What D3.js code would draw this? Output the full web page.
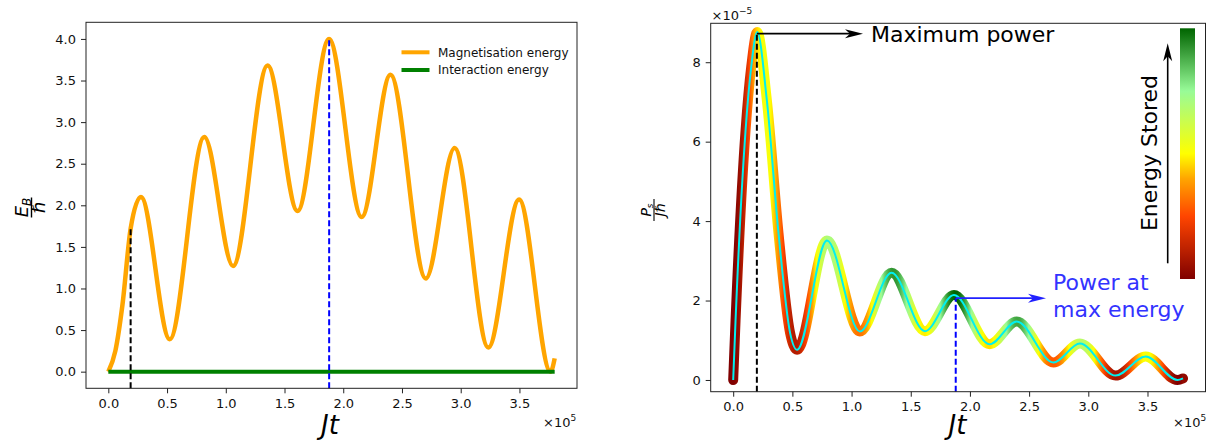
<!DOCTYPE html>
<html>
<head>
<meta charset="utf-8">
<script src="https://cdnjs.cloudflare.com/ajax/libs/d3/7.8.5/d3.min.js"></script>
<style>
body { margin: 0; background: #fff; }
svg { font-family: "DejaVu Sans", sans-serif; }
</style>
</head>
<body>
<div id="chart"></div>
<script>
// tick labels
var timeTicks = [0, 0.5, 1.0, 1.5, 2.0, 2.5, 3.0, 3.5];
var energyTicks = [0, 0.5, 1.0, 1.5, 2.0, 2.5, 3.0, 3.5, 4.0];
var powerTicks = [0, 2, 4, 6, 8];

// magnetisation energy E_B/hbar against Jt (x1e5)
var energyTime = [0, 0.06, 0.12, 0.19, 0.278, 0.523, 0.817, 1.062, 1.356, 1.611, 1.879, 2.157, 2.402, 2.703, 2.948, 3.235, 3.497, 3.765, 3.8];
var magEnergy = [0, 0.25, 0.8, 1.72, 2.1, 0.39, 2.82, 1.27, 3.68, 1.93, 4.0, 1.86, 3.57, 1.12, 2.69, 0.29, 2.07, 0.0, 0.16];
var interTime = [0, 3.8];
var interEnergy = [0, 0];

// power P_s/(J hbar) (x1e-5)
var powerTime = [0, 0.02, 0.105, 0.153, 0.203, 0.284, 0.383, 0.481, 0.54, 0.792, 1.07, 1.338, 1.62, 1.865, 2.166, 2.395, 2.706, 2.929, 3.23, 3.485, 3.753, 3.8];
var powerValue = [0, 1.5, 6.3, 7.9, 8.76, 7.05, 3.69, 1.18, 0.76, 3.51, 1.22, 2.70, 1.23, 2.14, 0.90, 1.47, 0.44, 0.92, 0.11, 0.59, 0.0, 0.04];

// dashed markers (max power time, max energy time)
var markTime = [0.19, 1.88];
var markEnergy = [1.72, 4.0];
var markPowerTime = [0.2, 1.88];
var markPower = [8.72, 2.06];

// energy colormap
var cmapEnergy = [0, 1, 1.6, 2, 3, 4];
var cmapColors = ["#800000", "#ff4500", "#ffa500", "#ffff00", "#98fb98", "#006400"];

function base(){
    var w = 1207;
    var h = 441;

    var svg = d3.select("#chart")
    .append("svg")
    .attr("width", w)
    .attr("height", h);

    svg.append("rect").attr("width", w).attr("height", h).attr("fill", "#fff");
    var defs = svg.append("defs");

    //scales
    var xL = d3.scaleLinear().domain([-0.19, 3.99]).range([86, 577]);
    var yL = d3.scaleLinear().domain([-0.2, 4.2]).range([388.3, 22.3]);
    var xR = d3.scaleLinear().domain([-0.19, 3.99]).range([710.7, 1205.5]);
    var yR = d3.scaleLinear().domain([-0.295, 8.98]).range([391.7, 23.3]);

    var cmap = d3.scaleLinear().domain(cmapEnergy).range(cmapColors);

    function axes(x, y, yTicks, yFmt) {
        var g = svg.append("g");
        g.append("g")
        .attr("transform", "translate(0," + y.range()[0] + ")")
        .call(d3.axisBottom(x).tickValues(timeTicks).tickFormat(d3.format(".1f"))
            .tickSize(5).tickPadding(5.5))
        .call(function(a) { a.select(".domain").remove(); });
        g.append("g")
        .attr("transform", "translate(" + x.range()[0] + ",0)")
        .call(d3.axisLeft(y).tickValues(yTicks).tickFormat(d3.format(yFmt))
            .tickSize(5).tickPadding(5))
        .call(function(a) { a.select(".domain").remove(); });
        g.selectAll(".tick text").attr("font-size", 13).attr("font-family", "DejaVu Sans").attr("fill", "#111");
        g.selectAll(".tick line").attr("stroke", "#222").attr("stroke-width", 1);
        return g;
    }

    function frame(x, y) {
        svg.append("rect")
        .attr("x", x.range()[0]).attr("y", y.range()[1])
        .attr("width", x.range()[1] - x.range()[0])
        .attr("height", y.range()[0] - y.range()[1])
        .attr("fill", "none").attr("stroke", "#222").attr("stroke-width", 1);
    }

    function arrowRight(tx, ty) {
        return "M" + tx + "," + ty + "L" + (tx - 18) + "," + (ty - 4.5) + "L" + (tx - 13) + "," + ty + "L" + (tx - 18) + "," + (ty + 4.5) + "Z";
    }

    // ---------- left panel ----------
    axes(xL, yL, energyTicks, ".1f");

    var lineL = d3.line()
    .x(function(d) { return xL(d[0]); })
    .y(function(d) { return yL(d[1]); })
    .curve(d3.curveMonotoneX);

    var orange = svg.append("path")
    .datum(d3.zip(energyTime, magEnergy))
    .attr("d", lineL)
    .attr("fill", "none")
    .attr("stroke", "#ffa500")
    .attr("stroke-width", 4.5);

    svg.append("path")
    .datum(d3.zip(interTime, interEnergy))
    .attr("d", lineL)
    .attr("fill", "none")
    .attr("stroke", "#008000")
    .attr("stroke-width", 4);

    svg.selectAll(".markL")
    .data(d3.zip(markTime, markEnergy))
    .enter()
    .append("line")
    .attr("x1", function(d) { return xL(d[0]); })
    .attr("x2", function(d) { return xL(d[0]); })
    .attr("y1", yL.range()[0])
    .attr("y2", function(d) { return yL(d[1]); })
    .attr("stroke", function(d, i) { return i == 0 ? "#000" : "#0000ff"; })
    .attr("stroke-width", 2)
    .attr("stroke-dasharray", "6,3");

    frame(xL, yL);

    //legend
    var leg = svg.append("g");
    [["Magnetisation energy", "#ffa500"], ["Interaction energy", "#008000"]].forEach(function(d, i) {
        var yy = 52.3 + i * 17.7;
        leg.append("line").attr("x1", 401.5).attr("x2", 429.5).attr("y1", yy).attr("y2", yy)
        .attr("stroke", d[1]).attr("stroke-width", 4);
        leg.append("text").attr("x", 438).attr("y", yy + 4.4).attr("font-size", 12).attr("fill", "#111").text(d[0]);
    });

    //axis labels
    var fl = svg.append("g").attr("transform", "translate(31.5,207.5) rotate(-90)");
    var num = fl.append("text").attr("x", 0).attr("y", -4).attr("text-anchor", "middle")
    .attr("font-size", 18).attr("font-style", "italic");
    num.append("tspan").text("E");
    num.append("tspan").attr("font-size", 12).attr("dy", 3).text("B");
    fl.append("line").attr("x1", -10).attr("x2", 10).attr("y1", 0).attr("y2", 0).attr("stroke", "#000").attr("stroke-width", 1.4);
    fl.append("text").attr("x", 0).attr("y", 13.5).attr("text-anchor", "middle")
    .attr("font-size", 18).attr("font-style", "italic").text("\u210F");

    svg.append("text").attr("x", 330).attr("y", 434).attr("text-anchor", "middle")
    .attr("font-size", 26).attr("font-style", "italic").text("Jt");

    var sx = svg.append("text").attr("x", 543).attr("y", 427).attr("font-size", 13).attr("fill", "#111");
    sx.append("tspan").text("\u00d710");
    sx.append("tspan").attr("font-size", 9).attr("dy", -6).text("5");

    // ---------- right panel ----------
    axes(xR, yR, powerTicks, "d");

    // sample the drawn energy curve to colour the power curve by stored energy
    var node = orange.node();
    var total = node.getTotalLength();
    var samples = [];
    for (var l = 0; l <= total; l += 2) {
        var p = node.getPointAtLength(l);
        samples.push([xL.invert(p.x), yL.invert(p.y)]);
    }
    samples.sort(function(a, b) { return a[0] - b[0]; });

    var grad = defs.append("linearGradient")
    .attr("id", "energyGrad")
    .attr("gradientUnits", "userSpaceOnUse")
    .attr("x1", xR(0)).attr("x2", xR(3.8))
    .attr("y1", 0).attr("y2", 0);
    grad.selectAll("stop")
    .data(samples)
    .enter()
    .append("stop")
    .attr("offset", function(d) { return Math.max(0, Math.min(1, d[0] / 3.8)); })
    .attr("stop-color", function(d) { return cmap(Math.max(0, Math.min(4, d[1]))); });

    var lineR = d3.line()
    .x(function(d) { return xR(d[0]); })
    .y(function(d) { return yR(d[1]); })
    .curve(d3.curveMonotoneX);

    var powerData = d3.zip(powerTime, powerValue);

    svg.append("path")
    .datum(powerData)
    .attr("d", lineR)
    .attr("fill", "none")
    .attr("stroke", "url(#energyGrad)")
    .attr("stroke-width", 10)
    .attr("stroke-linecap", "round")
    .attr("stroke-linejoin", "round");

    svg.append("path")
    .datum(powerData)
    .attr("d", lineR)
    .attr("fill", "none")
    .attr("stroke", "#00f0f0")
    .attr("stroke-width", 2);

    svg.selectAll(".markR")
    .data(d3.zip(markPowerTime, markPower))
    .enter()
    .append("line")
    .attr("x1", function(d) { return xR(d[0]); })
    .attr("x2", function(d) { return xR(d[0]); })
    .attr("y1", yR.range()[0])
    .attr("y2", function(d) { return yR(d[1]); })
    .attr("stroke", function(d, i) { return i == 0 ? "#000" : "#0000ff"; })
    .attr("stroke-width", 2)
    .attr("stroke-dasharray", "6,3");

    frame(xR, yR);

    //annotations
    var ay = yR(markPower[0]);
    svg.append("line").attr("x1", xR(markPowerTime[0])).attr("x2", 850).attr("y1", ay).attr("y2", ay)
    .attr("stroke", "#000").attr("stroke-width", 1.6);
    svg.append("path").attr("d", arrowRight(863, ay)).attr("fill", "#000");
    svg.append("text").attr("x", 871).attr("y", 41.7).attr("font-size", 22).attr("fill", "#000").text("Maximum power");

    var by = yR(markPower[1]);
    svg.append("line").attr("x1", xR(markPowerTime[1])).attr("x2", 1033).attr("y1", by).attr("y2", by)
    .attr("stroke", "#2020ff").attr("stroke-width", 1.6);
    svg.append("path").attr("d", arrowRight(1046, by)).attr("fill", "#2020ff");
    svg.append("text").attr("x", 1053).attr("y", 290).attr("font-size", 22).attr("fill", "#3333ff").text("Power at");
    svg.append("text").attr("x", 1053).attr("y", 317).attr("font-size", 22).attr("fill", "#3333ff").text("max energy");

    //colour bar
    var cbGrad = defs.append("linearGradient")
    .attr("id", "cbGrad")
    .attr("x1", 0).attr("x2", 0).attr("y1", 1).attr("y2", 0);
    cbGrad.selectAll("stop")
    .data(d3.range(0, 4.01, 0.1))
    .enter()
    .append("stop")
    .attr("offset", function(d) { return d / 4; })
    .attr("stop-color", function(d) { return cmap(d); });
    svg.append("rect").attr("x", 1180).attr("y", 28.3).attr("width", 15).attr("height", 250.7)
    .attr("fill", "url(#cbGrad)");

    svg.append("line").attr("x1", 1167.7).attr("x2", 1167.7).attr("y1", 263.3).attr("y2", 56)
    .attr("stroke", "#000").attr("stroke-width", 1.6);
    svg.append("path")
    .attr("d", "M1167.7,43.3L1163.2,61.3L1167.7,56.3L1172.2,61.3Z")
    .attr("fill", "#000");
    svg.append("text").attr("transform", "translate(1157,153) rotate(-90)")
    .attr("text-anchor", "middle").attr("font-size", 22).attr("fill", "#000").text("Energy Stored");

    //axis labels
    var fr = svg.append("g").attr("transform", "translate(654,210) rotate(-90)");
    var pn = fr.append("text").attr("x", 0).attr("y", -3).attr("text-anchor", "middle")
    .attr("font-size", 14).attr("font-style", "italic");
    pn.append("tspan").text("P");
    pn.append("tspan").attr("font-size", 9).attr("dy", 2).text("s");
    fr.append("line").attr("x1", -11).attr("x2", 11).attr("y1", 0).attr("y2", 0).attr("stroke", "#000").attr("stroke-width", 1.1);
    fr.append("text").attr("x", 0).attr("y", 11).attr("text-anchor", "middle")
    .attr("font-size", 14).attr("font-style", "italic").text("J\u210F");

    svg.append("text").attr("x", 957.5).attr("y", 434).attr("text-anchor", "middle")
    .attr("font-size", 26).attr("font-style", "italic").text("Jt");

    var sr = svg.append("text").attr("x", 1173).attr("y", 427).attr("font-size", 13).attr("fill", "#111");
    sr.append("tspan").text("\u00d710");
    sr.append("tspan").attr("font-size", 9).attr("dy", -6).text("5");

    var st = svg.append("text").attr("x", 711.5).attr("y", 19.5).attr("font-size", 13).attr("fill", "#111");
    st.append("tspan").text("\u00d710");
    st.append("tspan").attr("font-size", 9).attr("dy", -6).text("\u22125");
}

window.onload = base;
</script>
</body>
</html>
